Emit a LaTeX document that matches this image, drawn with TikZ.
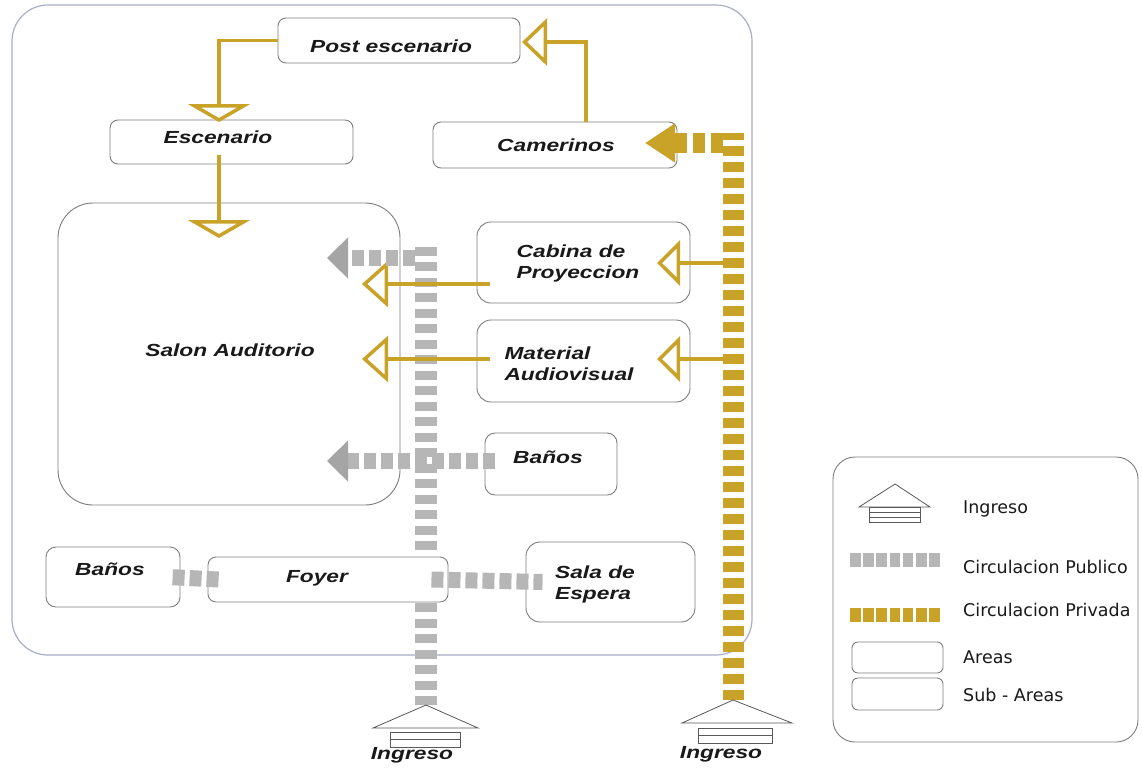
\documentclass[tikz,border=0pt]{standalone}
\usepackage{fontspec}
\setmainfont{Liberation Sans}
\newfontfamily\boxfont[FakeStretch=1.3]{Liberation Sans}
\newfontfamily\legfont{DejaVu Sans}
\usetikzlibrary{arrows.meta}
\definecolor{gold}{RGB}{201,163,40}
\definecolor{pubgray}{RGB}{182,182,182}
\definecolor{pubdark}{RGB}{165,165,165}
\definecolor{framecol}{RGB}{168,173,200}
\definecolor{boxline}{RGB}{125,125,125}
\definecolor{txt}{RGB}{25,25,25}
\begin{document}
\begin{tikzpicture}[x=1pt,y=-1pt,
  area/.style={draw=boxline, line width=0.9pt, fill=white, rounded corners=8pt, inner sep=0pt},
  lbl/.style={font=\boxfont\bfseries\itshape\fontsize{17.5}{21}\selectfont, text=txt, align=left, inner sep=0pt},
  legtxt/.style={font=\legfont\fontsize{17.5}{20}\selectfont, text=txt, anchor=west, inner sep=0pt},
  solidgold/.style={draw=gold, line width=3.5pt},
  privv/.style={draw=gold, line width=21pt, dash pattern=on 10pt off 6pt},
  privh/.style={draw=gold, line width=20pt, dash pattern=on 12pt off 6pt},
  pubv/.style={draw=pubgray, line width=22pt, dash pattern=on 9pt off 6.5pt},
  pubh/.style={draw=pubgray, line width=16pt, dash pattern=on 12pt off 5pt},
  pubarrow/.style={-{Triangle[length=21pt,width=40pt,color=pubdark]}},
  roof/.style={draw=black!65, line width=0.8pt}
]
\useasboundingbox (0,0) rectangle (1142,769);
\fill[white] (0,0) rectangle (1142,769);

% outer frame
\node[draw=framecol, line width=1.2pt, rounded corners=36pt, minimum width=740pt, minimum height=650pt, inner sep=0pt] (outer) at (382,330) {};

% boxes
\node[area, minimum width=242pt, minimum height=45pt] (post) at (399,40.5) {};
\node[area, minimum width=243pt, minimum height=44pt] (esc) at (231.5,142) {};
\node[area, minimum width=244pt, minimum height=46pt] (cam) at (555,145) {};
\node[area, rounded corners=35pt, minimum width=342pt, minimum height=302pt] (salon) at (229,354) {};
\node[area, rounded corners=14pt, minimum width=213pt, minimum height=81pt] (cab) at (583.5,262.5) {};
\node[area, rounded corners=14pt, minimum width=213pt, minimum height=82pt] (mat) at (583.5,361) {};
\node[area, rounded corners=10pt, minimum width=132pt, minimum height=62pt] (banr) at (551,464) {};
\node[area, rounded corners=10pt, minimum width=134pt, minimum height=60pt] (banl) at (113,577) {};
\node[area, rounded corners=14pt, minimum width=169pt, minimum height=80pt] (sala) at (610.5,582) {};

% public vertical circulation (behind the foyer)
\coordinate (ing1apex) at (426,705);
\coordinate (pubtop) at (426,245);
\draw[pubv] (ing1apex) -- (pubtop);

\node[area, minimum width=240pt, minimum height=45pt] (foyer) at (328,579.5) {};

% texts
\node[lbl] (postt) at (391,46) {Post escenario};
\node[lbl] (esct) at (218,137) {Escenario};
\node[lbl] (camt) at (556,145) {Camerinos};
\node[lbl] (salont) at (230,350) {Salon Auditorio};
\node[lbl] (cabt) at (578,263) {Cabina de\\Proyeccion};
\node[lbl] (matt) at (569,364) {Material\\Audiovisual};
\node[lbl] (banrt) at (548,457) {Baños};
\node[lbl] (banlt) at (110,569) {Baños};
\node[lbl] (foyert) at (317,578) {Foyer};
\node[lbl] (salat) at (595,584) {Sala de\\Espera};

% private solid connectors
\coordinate (t1) at (219,122);
\draw[solidgold, -{Triangle[open, length=18pt, width=62pt]}] (post.west) -| (t1);
\coordinate (e1) at (219,155);
\coordinate (t2) at (219,238);
\draw[solidgold, -{Triangle[open, length=18pt, width=62pt]}] (e1) -- (t2);
\coordinate (c0) at (586,122);
\coordinate (t3) at (522,42);
\draw[solidgold, -{Triangle[open, length=25pt, width=47pt]}] (c0) |- (t3);

% private circulation
\coordinate (ing2apex) at (733,700);
\coordinate (privtop) at (733,133);
\draw[privv] (ing2apex) -- (privtop);
\coordinate (ph0) at (723,143);
\coordinate (camtip) at (645,143);
\draw[privh, -{Triangle[length=30pt,width=37pt]}] (ph0) -- (camtip);

\coordinate (pb1) at (723,263);
\coordinate (cabtip) at (657,263);
\draw[solidgold, -{Triangle[open, length=23pt, width=45pt]}] (pb1) -- (cabtip);
\coordinate (pb2) at (723,359);
\coordinate (mattip) at (657,359);
\draw[solidgold, -{Triangle[open, length=23pt, width=45pt]}] (pb2) -- (mattip);

\coordinate (cs) at (490,284);
\coordinate (ct) at (362,284);
\draw[solidgold, -{Triangle[open, length=26pt, width=46pt]}] (cs) -- (ct);
\coordinate (ms) at (490,359);
\coordinate (mt) at (362,359);
\draw[solidgold, -{Triangle[open, length=26pt, width=46pt]}] (ms) -- (mt);

% public horizontal circulation
\coordinate (p1s) at (415,258);
\coordinate (p1t) at (327,258);
\draw[pubh, pubarrow] (p1s) -- (p1t);
\coordinate (p2s) at (495,461);
\coordinate (p2t) at (327,461);
\draw[pubh, pubarrow] (p2s) -- (p2t);
\draw[pubh] ([xshift=11pt]foyer.west) -- ([xshift=-12pt]banl.east);
\draw[pubh] ([xshift=-17pt]foyer.east) -- ([xshift=17pt]sala.west);

% entrances
\draw[roof] (373,728) -- (ing1apex) -- (478,728) -- cycle;
\draw[roof] (390,732) rectangle (460,747);
\draw[roof] (390,739.5) -- (460,739.5);
\node[lbl] (ing1) at (412,755) {Ingreso};
\draw[roof] (682,723) -- (ing2apex) -- (792,723) -- cycle;
\draw[roof] (698,728) rectangle (772,743);
\draw[roof] (698,735.5) -- (772,735.5);
\node[lbl] (ing2) at (721,754) {Ingreso};

% legend
\node[draw=boxline, line width=0.9pt, rounded corners=22pt, minimum width=305pt, minimum height=285pt, inner sep=0pt] (legend) at (985.5,599.5) {};
\draw[roof] (859,507) -- (895,484) -- (930,507) -- cycle;
\draw[roof] (869,507) rectangle (920,522);
\draw[roof] (869,512) -- (920,512);
\draw[roof] (869,517) -- (920,517);
\node[legtxt] (lg1) at (963,509) {Ingreso};
\coordinate (lgp0) at (850,560);
\coordinate (lgp1) at (942,560);
\draw[draw=pubgray, line width=14pt, dash pattern=on 10.6pt off 2.6pt] (lgp0) -- (lgp1);
\node[legtxt] (lg2) at (963,567) {Circulacion Publico};
\coordinate (lgq0) at (850,615);
\coordinate (lgq1) at (942,615);
\draw[draw=gold, line width=14pt, dash pattern=on 10.6pt off 2.6pt] (lgq0) -- (lgq1);
\node[legtxt] (lg3) at (963,610) {Circulacion Privada};
\node[area, rounded corners=6pt, minimum width=91pt, minimum height=31pt] (lga) at (897.5,657.5) {};
\node[legtxt] (lg4) at (963,657) {Areas};
\node[area, rounded corners=6pt, minimum width=91pt, minimum height=32pt] (lgs) at (897.5,694) {};
\node[legtxt] (lg5) at (963,695) {Sub - Areas};
\end{tikzpicture}
\end{document}
